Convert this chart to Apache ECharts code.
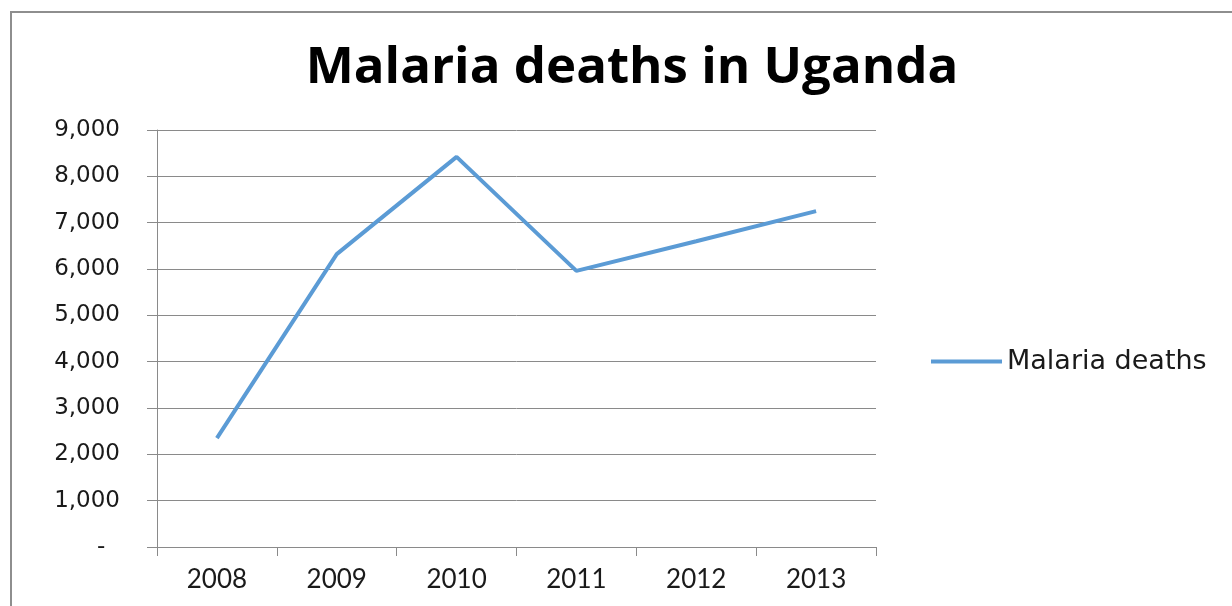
<!DOCTYPE html>
<html>
<head>
<meta charset="utf-8">
<title>Malaria deaths in Uganda</title>
<script src="https://cdn.jsdelivr.net/npm/echarts@6/dist/echarts.min.js"></script>
<style>
  html, body { margin: 0; padding: 0; background: #ffffff; }
  #chart { width: 1232px; height: 606px; }
</style>
</head>
<body>
<div id="chart"></div>
<script>
// Years on the category axis
const years = ['2008', '2009', '2010', '2011', '2012', '2013'];
// Reported malaria deaths per year
const malariaDeaths = [2350, 6320, 8420, 5960, 6600, 7250];
const seriesName = 'Malaria deaths';
const chartTitle = 'Malaria deaths in Uganda';

const gridColor = '#8a8a8a';
const textColor = '#1a1a1a';
const lineColor = '#5b9bd5';

const chart = echarts.init(document.getElementById('chart'), null, { renderer: 'canvas' });

chart.setOption({
  backgroundColor: '#ffffff',
  animation: false,
  title: {
    text: chartTitle,
    left: 627,
    top: 38,
    textAlign: 'center',
    textStyle: {
      fontFamily: 'Open Sans',
      fontWeight: 700,
      fontSize: 51,
      color: '#000000'
    }
  },
  legend: {
    data: [{ name: seriesName, icon: 'rect' }],
    left: 926,
    top: 343,
    itemWidth: 71,
    itemHeight: 4,
    itemStyle: { color: lineColor },
    textStyle: {
      fontFamily: 'DejaVu Sans',
      fontSize: 27,
      color: textColor
    }
  },
  grid: {
    left: 157,
    right: 356,
    top: 130,
    bottom: 59,
    containLabel: false
  },
  xAxis: {
    type: 'category',
    data: years,
    boundaryGap: true,
    axisLine: { show: true, lineStyle: { color: gridColor, width: 1 } },
    axisTick: { show: true, length: 9, lineStyle: { color: gridColor, width: 1 } },
    axisLabel: {
      margin: 20,
      fontFamily: 'Liberation Sans Narrow, Lato, sans-serif',
      fontSize: 26,
      color: textColor
    },
    splitLine: { show: false }
  },
  yAxis: {
    type: 'value',
    min: 0,
    max: 9000,
    interval: 1000,
    axisLine: { show: true, lineStyle: { color: gridColor, width: 1 } },
    axisTick: { show: true, length: 10, lineStyle: { color: gridColor, width: 1 } },
    axisLabel: {
      margin: 37,
      fontFamily: 'DejaVu Sans',
      fontSize: 23,
      color: textColor,
      formatter: function (v) {
        return v === 0 ? '-  ' : v.toLocaleString('en-US');
      }
    },
    splitLine: { show: true, lineStyle: { color: gridColor, width: 1 } }
  },
  series: [{
    name: seriesName,
    type: 'line',
    data: malariaDeaths,
    symbol: 'none',
    smooth: false,
    lineStyle: { color: lineColor, width: 4 },
    itemStyle: { color: lineColor }
  }],
  graphic: [{
    type: 'rect',
    silent: true,
    shape: { x: 11, y: 12, width: 1400, height: 800 },
    style: { fill: 'none', stroke: '#8e8e8e', lineWidth: 2 }
  }]
});
</script>
</body>
</html>
